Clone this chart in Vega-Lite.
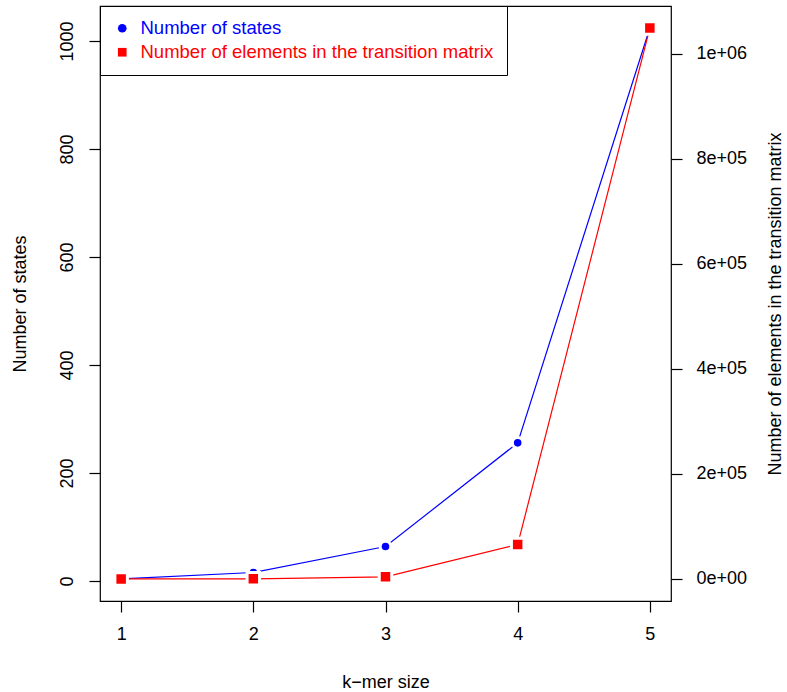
{
  "$schema": "https://vega.github.io/schema/vega-lite/v6.json",
  "autosize": "none",
  "width": 571,
  "height": 595,
  "padding": {"left": 100, "top": 6, "right": 116, "bottom": 91},
  "background": "white",
  "data": {"values": [
    {"k": 1, "series": "Number of states", "value": 4},
    {"k": 2, "series": "Number of states", "value": 16},
    {"k": 3, "series": "Number of states", "value": 64},
    {"k": 4, "series": "Number of states", "value": 256},
    {"k": 5, "series": "Number of states", "value": 1024},
    {"k": 1, "series": "Number of elements in the transition matrix", "value": 16},
    {"k": 2, "series": "Number of elements in the transition matrix", "value": 256},
    {"k": 3, "series": "Number of elements in the transition matrix", "value": 4096},
    {"k": 4, "series": "Number of elements in the transition matrix", "value": 65536},
    {"k": 5, "series": "Number of elements in the transition matrix", "value": 1048576}
  ]},
  "encoding": {
    "x": {"field": "k", "type": "quantitative",
      "scale": {"domain": [0.84, 5.16], "nice": false, "zero": false},
      "axis": {"values": [1, 2, 3, 4, 5], "title": "k−mer size", "titlePadding": 30, "labelPadding": 13}},
    "color": {"field": "series", "type": "nominal",
      "scale": {"domain": ["Number of states", "Number of elements in the transition matrix"], "range": ["#0000ff", "#ff0000"]},
      "legend": {"title": null, "orient": "top-left", "offset": 0, "strokeColor": "black", "fillColor": "white",
        "padding": 13, "rowPadding": 5, "labelFontSize": 18.5, "labelLimit": 0, "symbolSize": 75, "symbolStrokeWidth": 0, "labelOffset": 9,
        "encode": {"labels": {"update": {"fill": {"scale": "color", "field": "value"}}}}}},
    "shape": {"field": "series", "type": "nominal",
      "scale": {"domain": ["Number of states", "Number of elements in the transition matrix"], "range": ["circle", "square"]},
      "legend": {"title": null, "orient": "top-left", "offset": 0, "strokeColor": "black", "fillColor": "white",
        "padding": 13, "rowPadding": 5, "labelFontSize": 18.5, "labelLimit": 0, "symbolSize": 75, "symbolStrokeWidth": 0, "labelOffset": 9,
        "encode": {"labels": {"update": {"fill": {"scale": "color", "field": "value"}}}}}}
  },
  "layer": [
    {
      "transform": [{"filter": "datum.series == 'Number of states'"}],
      "encoding": {
        "y": {"field": "value", "type": "quantitative",
          "scale": {"domain": [-36.8, 1064.8], "nice": false, "zero": false},
          "axis": {"orient": "left", "values": [0, 200, 400, 600, 800, 1000], "format": "d", "labelAngle": -90, "title": "Number of states", "titlePadding": 29, "labelPadding": 13}}
      },
      "layer": [
        {"mark": {"type": "line", "strokeWidth": 1.2}},
        {"mark": {"type": "point", "filled": true, "size": 113, "opacity": 1, "stroke": "white", "strokeWidth": 3, "strokeOpacity": 1}}
      ]
    },
    {
      "transform": [{"filter": "datum.series != 'Number of states'"}],
      "encoding": {
        "y": {"field": "value", "type": "quantitative",
          "scale": {"domain": [-41926, 1090518], "nice": false, "zero": false},
          "axis": {"orient": "right", "values": [0, 200000, 400000, 600000, 800000, 1000000],
            "labelExpr": "replace(format(datum.value, '.0e'), regexp('e[+]([0-9])$'), 'e+0$1')",
            "title": "Number of elements in the transition matrix", "titleAngle": 270, "titleBaseline": "top", "titlePadding": 20, "labelPadding": 14}}
      },
      "layer": [
        {"mark": {"type": "line", "strokeWidth": 1.2}},
        {"mark": {"type": "point", "filled": true, "size": 156, "opacity": 1, "stroke": "white", "strokeWidth": 3, "strokeOpacity": 1}}
      ]
    }
  ],
  "resolve": {"scale": {"y": "independent"}},
  "config": {
    "font": "Liberation Sans",
    "view": {"stroke": "black", "strokeWidth": 1.2},
    "axis": {"grid": false, "domain": false, "tickColor": "black", "tickSize": 11, "tickWidth": 1.2,
      "labelFontSize": 18, "labelColor": "black", "titleFontSize": 18, "titleFontWeight": "normal", "titleColor": "black", "labelFont": "Liberation Sans", "titleFont": "Liberation Sans"},
    "legend": {"labelFont": "Liberation Sans"}
  }
}
